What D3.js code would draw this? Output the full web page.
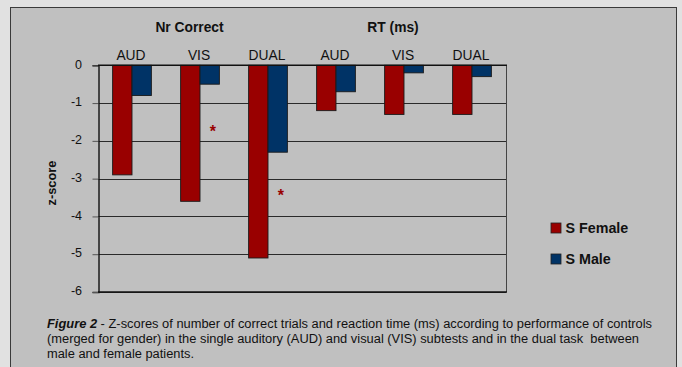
<!DOCTYPE html>
<html lang="en">
<head>
    <meta charset="UTF-8">
    <title>Z-scores chart</title>
    <style>
        body { margin: 0; background: #e1e1e1; }
        svg { display: block; font-family: "Liberation Sans", Arial, sans-serif; }
    </style>
</head>
<body>
    <div class="chart"></div>

    <script src="https://d3js.org/d3.v7.min.js"></script>
    <script>
        var categories = ["AUD", "VIS", "DUAL", "AUD ", "VIS ", "DUAL "]
        var female = [-2.9, -3.6, -5.1, -1.2, -1.3, -1.3]
        var male = [-0.8, -0.5, -2.3, -0.7, -0.2, -0.3]
        var seriesNames = ["S Female", "S Male"]
        var yTicks = [0, -1, -2, -3, -4, -5, -6]
        var groupTitles = ["Nr Correct", "RT (ms)"]
        // significance markers: category index, y value
        var stars = [[1, -1.66], [2, -3.36]]

        var width = 682, height = 367
        var colors = ["#990000", "#003366"]

        var svg = d3.select(".chart").append("svg")
            .attr("width", width)
            .attr("height", height)

        // panel
        svg.append("rect")
            .attr("x", 10.5).attr("y", 7.5)
            .attr("width", 666).attr("height", 370)
            .attr("fill", "#c0c0c0")
            .attr("stroke", "#3a3a3a")

        var x = d3.scaleBand()
            .domain(categories)
            .range([98, 506])
            .paddingInner(0.43)
            .paddingOuter(0.215)

        var sub = d3.scaleBand()
            .domain(seriesNames)
            .range([0, x.bandwidth()])

        var y = d3.scaleLinear()
            .domain([-6, 0])
            .range([292, 65.3])

        // gridlines
        svg.append("g")
            .selectAll("line")
            .data(yTicks)
            .enter()
            .append("line")
            .attr("x1", 98).attr("x2", 506)
            .attr("y1", function(d) { return Math.round(y(d)) + 0.5 })
            .attr("y2", function(d) { return Math.round(y(d)) + 0.5 })
            .attr("stroke", "#2a2a2a")
            .attr("stroke-width", 1)

        // right border of plot
        svg.append("line")
            .attr("x1", 506.5).attr("x2", 506.5)
            .attr("y1", y(0)).attr("y2", y(-6))
            .attr("stroke", "#444")

        // bars
        var data = categories.map(function(c, i) {
            return { cat: c, vals: [female[i], male[i]] }
        })

        var groups = svg.append("g").selectAll("g")
            .data(data)
            .enter()
            .append("g")
            .attr("transform", function(d) { return "translate(" + x(d.cat) + ",0)" })

        groups.selectAll("rect")
            .data(function(d) { return d.vals.map(function(v, j) { return { v: v, s: seriesNames[j], j: j } }) })
            .enter()
            .append("rect")
            .attr("x", function(d) { return sub(d.s) })
            .attr("y", y(0))
            .attr("width", sub.bandwidth())
            .attr("height", function(d) { return y(d.v) - y(0) })
            .attr("fill", function(d) { return colors[d.j] })
            .attr("stroke", "#1a1a1a")
            .attr("stroke-width", 0.9)

        // axes
        var yAxis = d3.axisLeft(y).tickValues(yTicks).tickSize(6).tickPadding(10.5)
            .tickFormat(function(d) { return d === 0 ? "0" : "-" + Math.abs(d) })
        var ga = svg.append("g")
            .attr("transform", "translate(98.5,0)")
            .call(yAxis)
        ga.select(".domain").attr("stroke", "#111").attr("stroke-width", 1.4)
        ga.selectAll(".tick line").attr("stroke", "#555")
        ga.selectAll(".tick text")
            .attr("font-size", 12.5)
            .attr("dy", "0.22em")
            .attr("font-family", "Liberation Sans, Arial, sans-serif")
            .attr("fill", "#111")

        // top line (zero) and bottom line
        svg.append("line")
            .attr("x1", 98).attr("x2", 507)
            .attr("y1", y(0)).attr("y2", y(0))
            .attr("stroke", "#111").attr("stroke-width", 1.6)
        svg.append("line")
            .attr("x1", 98).attr("x2", 507)
            .attr("y1", y(-6)).attr("y2", y(-6))
            .attr("stroke", "#111").attr("stroke-width", 1.6)

        // category labels on top
        svg.append("g").selectAll("text")
            .data(categories)
            .enter()
            .append("text")
            .attr("x", function(d) { return x(d) + x.bandwidth() / 2 - 1 })
            .attr("y", 60)
            .attr("text-anchor", "middle")
            .attr("font-size", 13.8)
            .attr("fill", "#111")
            .text(function(d) { return d.trim() })

        // group titles
        svg.append("text")
            .attr("x", x(categories[1]) + x.bandwidth() / 2 - 10.5)
            .attr("y", 32)
            .attr("text-anchor", "middle")
            .attr("font-size", 13.8)
            .attr("font-weight", "bold")
            .attr("fill", "#111")
            .text(groupTitles[0])
        svg.append("text")
            .attr("x", x(categories[4]) + x.bandwidth() / 2 - 11)
            .attr("y", 32)
            .attr("text-anchor", "middle")
            .attr("font-size", 13.8)
            .attr("font-weight", "bold")
            .attr("fill", "#111")
            .text(groupTitles[1])

        // y axis title
        svg.append("text")
            .attr("transform", "translate(56,183) rotate(-90)")
            .attr("text-anchor", "middle")
            .attr("font-size", 12.8)
            .attr("font-weight", "bold")
            .attr("fill", "#111")
            .text("z-score")

        // significance stars
        svg.append("g").selectAll("text")
            .data(stars)
            .enter()
            .append("text")
            .attr("x", function(d) { return x(categories[d[0]]) + x.bandwidth() * 0.83 })
            .attr("y", function(d) { return y(d[1]) + 9 })
            .attr("text-anchor", "middle")
            .attr("font-size", 16)
            .attr("font-weight", "bold")
            .attr("fill", "#990000")
            .text("*")

        // legend
        var legend = svg.append("g").selectAll("g")
            .data(seriesNames)
            .enter()
            .append("g")
            .attr("transform", function(d, i) { return "translate(551," + (223 + i * 31) + ")" })
        legend.append("rect")
            .attr("width", 10).attr("height", 10)
            .attr("fill", function(d, i) { return colors[i] })
            .attr("stroke", "#222")
            .attr("stroke-width", 0.8)
        legend.append("text")
            .attr("x", 14.5).attr("y", 10)
            .attr("font-size", 14.3)
            .attr("font-weight", "bold")
            .attr("fill", "#111")
            .text(function(d) { return d })

        // caption
        var caption = [
            [["Figure 2", true], [" - Z-scores of number of correct trials and reaction time (ms) according to performance of controls", false]],
            [["(merged for gender) in the single auditory (AUD) and visual (VIS) subtests and in the dual task  between", false]],
            [["male and female patients.", false]]
        ]
        var captionWidths = [605, 592, 147]
        caption.forEach(function(line, i) {
            var t = svg.append("text")
                .attr("x", 47)
                .attr("y", 327.5 + i * 15)
                .attr("font-size", 12)
                .attr("fill", "#111")
                .attr("textLength", captionWidths[i])
                .attr("lengthAdjust", "spacingAndGlyphs")
                .attr("xml:space", "preserve")
            line.forEach(function(part) {
                t.append("tspan")
                    .attr("font-weight", part[1] ? "bold" : "normal")
                    .attr("font-style", part[1] ? "italic" : "normal")
                    .text(part[0])
            })
        })
    </script>
</body>
</html>
